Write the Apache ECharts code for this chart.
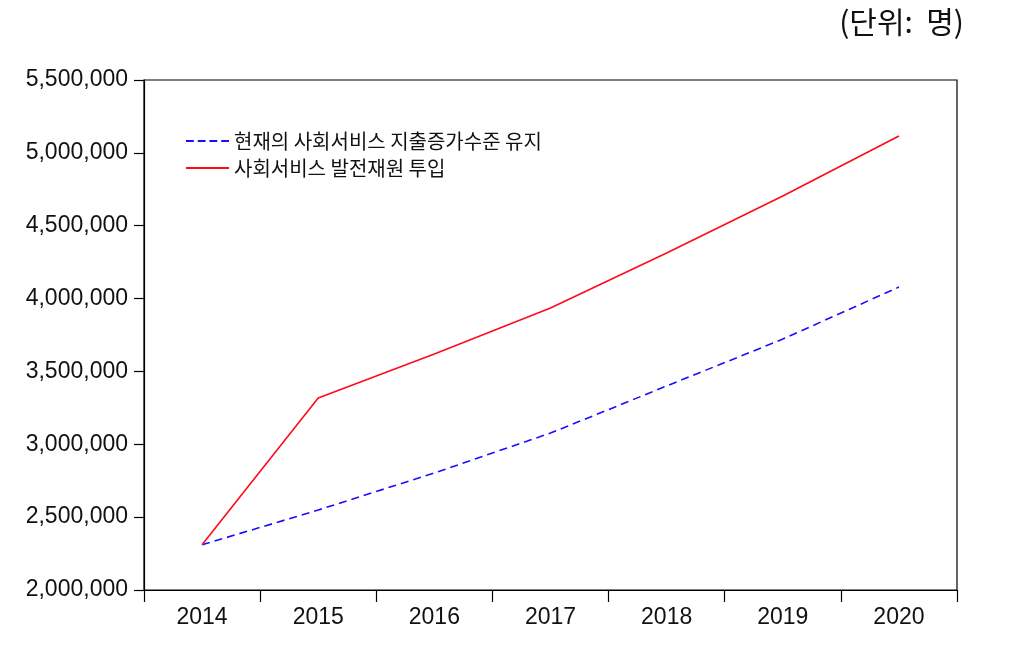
<!DOCTYPE html>
<html><head><meta charset="utf-8">
<script src="https://cdn.jsdelivr.net/npm/echarts@6/dist/echarts.min.js"></script>
<style>html,body{margin:0;padding:0;background:#fff}#c{width:1015px;height:666px}</style>
</head><body><div id="c"></div>
<script>
const years = ['2014','2015','2016','2017','2018','2019','2020'];
const seriesNames = ['현재의 사회서비스 지출증가수준 유지', '사회서비스 발전재원 투입'];
const maintain = [2310000, 2549000, 2803000, 3077000, 3400000, 3722000, 4079000];
const invest = [2310000, 3318000, 3620000, 3935000, 4313000, 4704000, 5116000];
const unitLabel = '(단위:  명)';

const dashIcon = 'path://M0,0 h8 v2 h-8 Z M12,0 h8 v2 h-8 Z M24,0 h8 v2 h-8 Z M36,0 h8 v2 h-8 Z';
const solidIcon = 'path://M0,0 h44 v2 h-44 Z';

const chart = echarts.init(document.getElementById('c'));
chart.setOption({
  animation: false,
  backgroundColor: '#fff',
  title: { text: unitLabel, right: 46, top: 2,
    textStyle: { fontFamily: 'Noto Sans CJK KR', fontSize: 30, fontWeight: 'normal', color: '#111' } },
  grid: { left: 144, right: 58, top: 80, bottom: 76, show: true, borderColor: '#000', borderWidth: 1.2, containLabel: false },
  legend: {
    orient: 'vertical', left: 181, top: 126, itemWidth: 43, itemHeight: 2.5, itemGap: 7,
    textStyle: { fontFamily: 'Noto Sans CJK KR', fontSize: 20, lineHeight: 20, color: '#111' },
    data: [{ name: seriesNames[0], icon: dashIcon }, { name: seriesNames[1], icon: solidIcon }]
  },
  xAxis: {
    type: 'category', data: years, boundaryGap: true,
    axisLine: { lineStyle: { color: '#000', width: 1.2 } },
    axisTick: { show: true, length: 12, inside: false, lineStyle: { color: '#000', width: 1.2 } },
    axisLabel: { fontFamily: 'Liberation Sans', fontSize: 23, color: '#111', margin: 16 },
    splitLine: { show: false }
  },
  yAxis: {
    type: 'value', min: 2000000, max: 5500000, interval: 500000,
    axisLine: { show: true, lineStyle: { color: '#000', width: 1.2 } },
    axisTick: { show: true, length: 10, lineStyle: { color: '#000', width: 1.2 } },
    axisLabel: { fontFamily: 'Liberation Sans', fontSize: 23, color: '#111', margin: 16,
      formatter: v => v.toLocaleString('en-US') },
    splitLine: { show: false }
  },
  series: [
    { name: seriesNames[0], type: 'line', data: maintain, symbol: 'none',
      lineStyle: { color: '#1a0dff', width: 1.6, type: [8, 5] }, itemStyle: { color: '#1a0dff' } },
    { name: seriesNames[1], type: 'line', data: invest, symbol: 'none',
      lineStyle: { color: '#ff0a1a', width: 1.6 }, itemStyle: { color: '#ff0a1a' } }
  ]
});
</script></body></html>
